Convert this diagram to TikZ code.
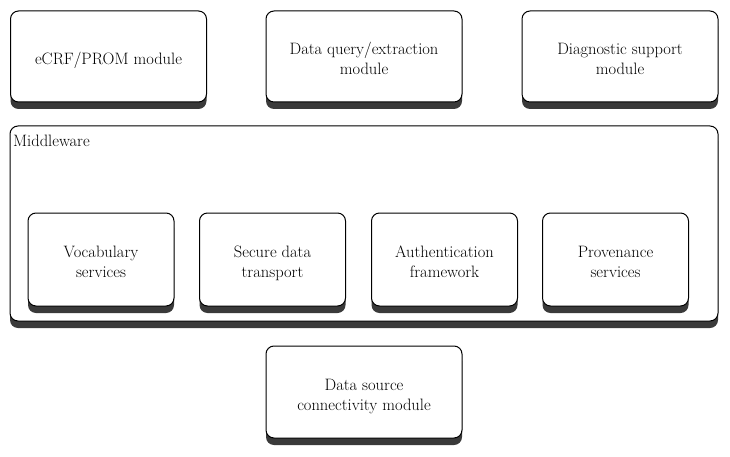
\documentclass[tikz,border=0pt]{standalone}
\usetikzlibrary{shadows}
\definecolor{shadowc}{HTML}{3A3A3A}
\newcommand\boxtext[1]{\raisebox{-4pt}[\height][\depth]{\begin{tabular}{@{}c@{}}#1\end{tabular}}}
\begin{document}
\begin{tikzpicture}[x=1pt,y=1pt,
  every node/.style={font=\fontsize{16.5}{20}\selectfont},
  modbox/.style={draw=black, line width=1pt, fill=white, rounded corners=8pt, inner sep=0pt,
    drop shadow={shadow xshift=0pt, shadow yshift=-7pt, fill=shadowc, opacity=1}},
  bigbox/.style={modbox, minimum width=196pt, minimum height=91pt},
  smallbox/.style={modbox, minimum width=146pt, minimum height=93pt}]
\useasboundingbox (0,0) rectangle (730,456);
\node[bigbox] (ecrf) at (108.5,399.5) {\boxtext{eCRF/PROM module}};
\node[bigbox] (query) at (364,399.5) {\boxtext{Data query/extraction\\module}};
\node[bigbox] (diag) at (620,399.5) {\boxtext{Diagnostic support\\module}};
\node[modbox, minimum width=708pt, minimum height=195pt] (mw) at (364,232.5) {};
\node[anchor=base west, inner sep=0pt] (mwlabel) at (13,310) {Middleware};
\node[smallbox] (vocab) at (101,196.5) {\boxtext{Vocabulary\\services}};
\node[smallbox] (secure) at (272.5,196.5) {\boxtext{Secure data\\transport}};
\node[smallbox] (auth) at (444.5,196.5) {\boxtext{Authentication\\framework}};
\node[smallbox] (prov) at (615.5,196.5) {\boxtext{Provenance\\services}};
\node[modbox, minimum width=196pt, minimum height=92pt] (source) at (364,64) {\boxtext{Data source\\connectivity module}};
\end{tikzpicture}
\end{document}
